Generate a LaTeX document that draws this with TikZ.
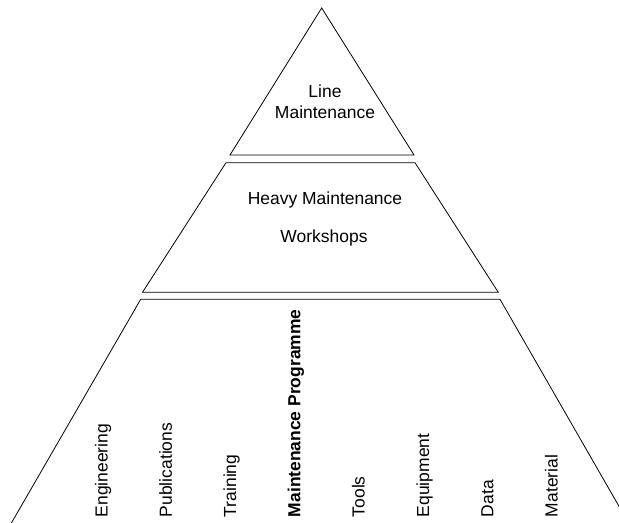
\documentclass[tikz,border=0pt]{standalone}
\usepackage{fontspec}
\setmainfont{Liberation Sans}
\usetikzlibrary{positioning}

\begin{document}
\begin{tikzpicture}[x=0.75pt,y=-0.75pt,line width=0.6pt,
  every node/.style={font=\fontsize{13.1}{15.75}\selectfont},
  level/.style={draw,line join=miter},
  column/.style={rotate=90,anchor=base west,inner sep=0pt}]

\useasboundingbox (0,0) rectangle (619,523);
\clip (0,0) rectangle (619,523);

% line maintenance
\coordinate (apex) at (321.7,8);
\coordinate (lm-l) at (230,155);
\coordinate (lm-r) at (414,155);
\draw[level] (apex) -- (lm-r) -- (lm-l) -- cycle;
\node[align=center] (line) at (325,101.5) {Line\\Maintenance};

% heavy maintenance
\coordinate (hm-tl) at (226,162.7);
\coordinate (hm-tr) at (415,162.7);
\coordinate (hm-br) at (498.3,292.3);
\coordinate (hm-bl) at (142.5,292.3);
\draw[level] (hm-tl) -- (hm-tr) -- (hm-br) -- (hm-bl) -- cycle;
\node[anchor=base] (heavy) at (325,205) {Heavy Maintenance};
\node[anchor=base] (shops) at (324,243) {Workshops};

% maintenance programme
\coordinate (mp-tl) at (140.7,299.3);
\coordinate (mp-tr) at (500,299.3);
\coordinate (mp-bl) at (11.4,523);
\coordinate (mp-br) at (628.6,523);
\draw[level] (mp-bl) -- (mp-tl) -- (mp-tr) -- (mp-br);

\foreach \name [count=\i from 0] in {Engineering,Publications,Training,
    {\textbf{Maintenance Programme}},Tools,Equipment,Data,Material}
  \node[column] (col-\i) at (107.5+64.3*\i,517.5) {\name};

\end{tikzpicture}
\end{document}
